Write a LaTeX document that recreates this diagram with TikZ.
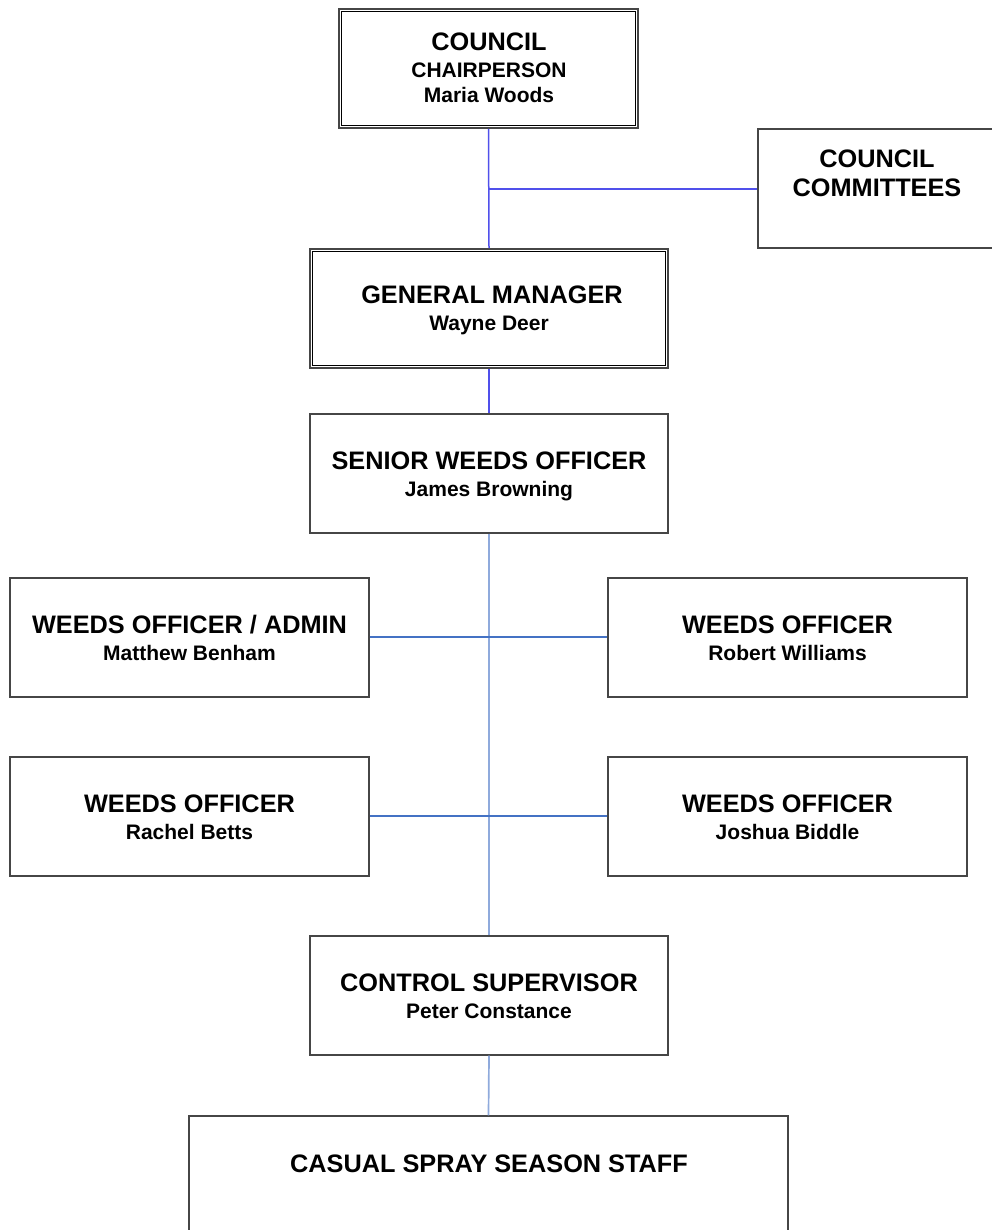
\documentclass[tikz,border=0pt]{standalone}
\usepackage{fontspec}
\setmainfont{Liberation Sans}
\usetikzlibrary{calc}
\definecolor{boxline}{RGB}{70,70,70}
\definecolor{upblue}{RGB}{80,80,235}
\definecolor{lowv}{RGB}{143,170,220}
\definecolor{lowh}{RGB}{68,114,196}
\tikzset{
  orgbox/.style={draw=boxline, line width=1.3pt, rectangle, inner sep=0pt, fill=white},
  dblbox/.style={orgbox, line width=1.7pt},
  innerline/.style={draw=black, line width=0.9pt},
  ttl/.style={font=\bfseries\fontsize{25.3}{28}\selectfont, inner sep=0pt, anchor=base},
  sub/.style={font=\bfseries\fontsize{21}{25}\selectfont, inner sep=0pt, anchor=base},
  upcon/.style={draw=upblue, line width=1.5pt},
  lowcon/.style={draw=lowv, line width=1.7pt},
  lowhcon/.style={draw=lowh, line width=1.8pt},
}
\begin{document}
\begin{tikzpicture}[x=1pt,y=-1pt]
\useasboundingbox (0,0) rectangle (992,1230);
\begin{scope}
\clip (0,0) rectangle (992,1230);
\coordinate (jc) at (489,189);
% boxes
\node[dblbox, minimum width=299, minimum height=119] (council) at (488.5,68.5) {};
\draw[innerline] ($(council.south west)+(3.5,-3.5)$) rectangle ($(council.north east)+(-3.5,3.5)$);
\node[orgbox, minimum width=260, minimum height=119] (comm) at (888,188.5) {};
\node[dblbox, minimum width=358, minimum height=119] (gm) at (489,308.5) {};
\draw[innerline] ($(gm.south west)+(3.5,-3.5)$) rectangle ($(gm.north east)+(-3.5,3.5)$);
\node[orgbox, minimum width=358, minimum height=119] (swo) at (489,473.5) {};
\node[orgbox, minimum width=359, minimum height=119] (wadmin) at (189.5,637.5) {};
\node[orgbox, minimum width=359, minimum height=119] (wrw) at (787.5,637.5) {};
\node[orgbox, minimum width=359, minimum height=119] (wrb) at (189.5,816.5) {};
\node[orgbox, minimum width=359, minimum height=119] (wjb) at (787.5,816.5) {};
\node[orgbox, minimum width=358, minimum height=119] (cs) at (489,995.5) {};
\node[orgbox, minimum width=599, minimum height=160] (cas) at (488.5,1196) {};
% connectors
\draw[upcon] (council.south) -- (gm.north);
\draw[upcon] (jc) -- (jc -| comm.west);
\draw[upcon] (gm.south) -- (swo.north);
\draw[lowcon] (swo.south) -- (cs.north);
\draw[lowhcon] ([yshift=0.5pt]wadmin.east) -- ([yshift=0.5pt]wrw.west);
\draw[lowhcon] ([yshift=0.5pt]wrb.east) -- ([yshift=0.5pt]wjb.west);
\draw[lowcon] (cs.south) -- (cas.north);
% texts
\node[ttl] (t1) at (489,51) {COUNCIL};
\node[sub] (t1b) at (489,78) {CHAIRPERSON};
\node[sub] (t1c) at (489,103) {Maria Woods};
\node[ttl] (t2) at (877,168) {COUNCIL};
\node[ttl] (t2b) at (877,197) {COMMITTEES};
\node[ttl] (t3) at (492,303) {GENERAL MANAGER};
\node[sub] (t3b) at (489,330) {Wayne Deer};
\node[ttl] (t4) at (489,469) {SENIOR WEEDS OFFICER};
\node[sub] (t4b) at (489,496) {James Browning};
\node[ttl] (t5) at (189.5,633) {WEEDS OFFICER / ADMIN};
\node[sub] (t5b) at (189.5,660) {Matthew Benham};
\node[ttl] (t6) at (787.5,633) {WEEDS OFFICER};
\node[sub] (t6b) at (787.5,660) {Robert Williams};
\node[ttl] (t7) at (189.5,812) {WEEDS OFFICER};
\node[sub] (t7b) at (189.5,839) {Rachel Betts};
\node[ttl] (t8) at (787.5,812) {WEEDS OFFICER};
\node[sub] (t8b) at (787.5,839) {Joshua Biddle};
\node[ttl] (t9) at (489,991) {CONTROL SUPERVISOR};
\node[sub] (t9b) at (489,1018) {Peter Constance};
\node[ttl] (t10) at (489,1172) {CASUAL SPRAY SEASON STAFF};
\end{scope}
\end{tikzpicture}
\end{document}
